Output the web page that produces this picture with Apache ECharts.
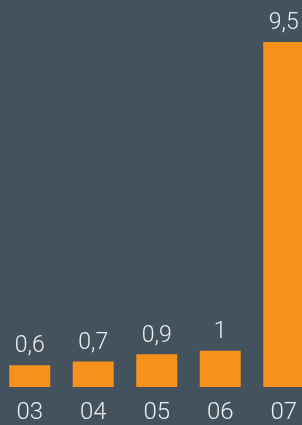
<!DOCTYPE html>
<html>
<head>
<meta charset="utf-8">
<script src="https://cdn.jsdelivr.net/npm/echarts@6/dist/echarts.min.js"></script>
<style>
  html, body { margin: 0; padding: 0; background: #44525e; }
  #chart { width: 302px; height: 425px; }
</style>
</head>
<body>
<div id="chart"></div>
<script>
// categories are the year suffixes shown under each bar
const categories = ['03', '04', '05', '06', '07'];
const values = [0.6, 0.7, 0.9, 1, 9.5];

// labels use a decimal comma, as in the picture
const fmt = (v) => String(v).replace('.', ',');

const FONT = 'Roboto, Liberation Sans, Arial, sans-serif';

const chart = echarts.init(document.getElementById('chart'));
chart.setOption({
  backgroundColor: '#44525e',
  animation: false,
  // the last bar runs off the right edge in the original
  grid: { left: -2, width: 317.5, top: 42, bottom: 38, outerBoundsMode: 'none' },
  xAxis: {
    type: 'category',
    data: categories,
    axisLine: { show: false },
    axisTick: { show: false },
    axisLabel: {
      color: '#eceeef',
      fontSize: 24,
      fontWeight: 300,
      fontFamily: FONT,
      margin: 14,
    },
  },
  yAxis: {
    type: 'value',
    min: 0,
    max: 9.5,
    show: false,
    splitLine: { show: false },
  },
  series: [{
    type: 'bar',
    data: values,
    barWidth: 41,
    itemStyle: { color: '#f7911e' },
    label: {
      show: true,
      position: 'top',
      distance: 7,
      color: '#eceeef',
      fontSize: 23,
      fontWeight: 300,
      fontFamily: FONT,
      formatter: (p) => fmt(p.value),
    },
  }],
});
</script>
</body>
</html>
